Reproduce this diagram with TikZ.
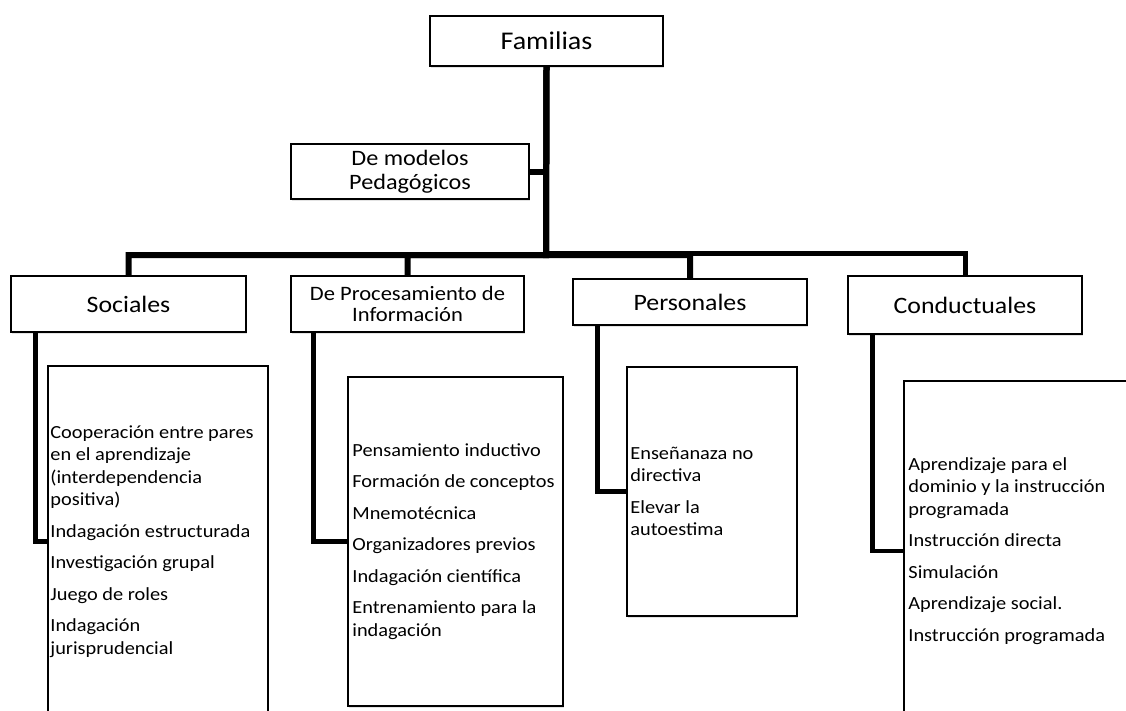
\documentclass[tikz,border=0pt]{standalone}
\usepackage{fontspec}
\setmainfont{Carlito}[FakeStretch=1.1]
\usetikzlibrary{shadows}
\begin{document}
\begin{tikzpicture}[x=1pt,y=-1pt,
  shad/.style={drop shadow={opacity=0.22,shadow xshift=1.2pt,shadow yshift=-2.2pt}},
  hbox/.style={draw,line width=1.6pt,fill=white,align=center,inner sep=0pt,shad},
  lbox/.style={draw,line width=1.6pt,fill=white,inner sep=0pt,shad},
  ltext/.style={anchor=west,align=left,inner sep=0pt,font=\fontsize{18.5}{22.5}\selectfont},
  conn/.style={line width=6pt,line join=miter},
  thinconn/.style={line width=5pt,line join=miter},
  drop/.style={line width=4.8pt,line join=miter}]
\useasboundingbox (0,0) rectangle (1126,710);
\clip (0,0) rectangle (1126,710);

% header boxes
\node[hbox,minimum width=233pt,minimum height=50pt,font=\fontsize{25.5}{28}\selectfont] (fam) at (546.5,41) {Familias};
\node[hbox,minimum width=238pt,minimum height=55pt,font=\fontsize{22}{24}\selectfont] (mod) at (410,171.5) {De modelos\\Pedagógicos};
\node[hbox,minimum width=235pt,minimum height=56pt,font=\fontsize{23.5}{26}\selectfont] (soc) at (128.5,304) {Sociales};
\node[hbox,minimum width=233pt,minimum height=56pt,font=\fontsize{20.5}{21}\selectfont] (pro) at (407.5,304) {De Procesamiento de\\Información};
\node[hbox,minimum width=234pt,minimum height=46pt,font=\fontsize{23.5}{26}\selectfont] (per) at (690,302) {Personales};
\node[hbox,minimum width=234pt,minimum height=58pt,font=\fontsize{23.5}{26}\selectfont] (con) at (965,305) {Conductuales};

% list boxes
\node[lbox,minimum width=220pt,minimum height=351pt] (socL) at (158,541.5) {};
\node[lbox,minimum width=215pt,minimum height=329pt] (proL) at (455.5,541.5) {};
\node[lbox,minimum width=170pt,minimum height=249pt] (perL) at (712,491.5) {};
\node[lbox,minimum width=231pt,minimum height=340pt] (conL) at (1019.5,551) {};

\node[ltext] (socT) at ([xshift=3pt]socL.west) {Cooperación entre pares\\en el aprendizaje\\(interdependencia\\positiva)\\[9pt]Indagación estructurada\\[9pt]Investigación grupal\\[9pt]Juego de roles\\[9pt]Indagación\\jurisprudencial};
\node[ltext] (proT) at ([xshift=5pt]proL.west) {Pensamiento inductivo\\[9pt]Formación de conceptos\\[9pt]Mnemotécnica\\[9pt]Organizadores previos\\[9pt]Indagación científica\\[9pt]Entrenamiento para la\\indagación};
\node[ltext] (perT) at ([xshift=4pt]perL.west) {Enseñanaza no\\directiva\\[9pt]Elevar la\\autoestima};
\node[ltext] (conT) at ([xshift=5pt]conL.west) {Aprendizaje para el\\dominio y la instrucción\\programada\\[9pt]Instrucción directa\\[9pt]Simulación\\[9pt]Aprendizaje social.\\[9pt]Instrucción programada};

% connectors
\coordinate (j1) at (546,255);
\coordinate (j2) at (546,253.5);
\draw[conn] (fam.south) -- (j1) -| (soc.north);
\draw[conn] (fam.south) -- (j1) -| (pro.north);
\draw[conn] (fam.south) -- (j1) -| (per.north);
\draw[thinconn] (j2) -| (con.north);
\draw[conn] (mod.east) -- (mod.east -| fam.south);

\draw[drop] ([xshift=25pt]soc.south west) |- (socL.west);
\draw[drop] ([xshift=23pt]pro.south west) |- (proL.west);
\draw[drop] ([xshift=25pt]per.south west) |- (perL.west);
\draw[drop] ([xshift=25pt]con.south west) |- (conL.west);
\end{tikzpicture}
\end{document}
